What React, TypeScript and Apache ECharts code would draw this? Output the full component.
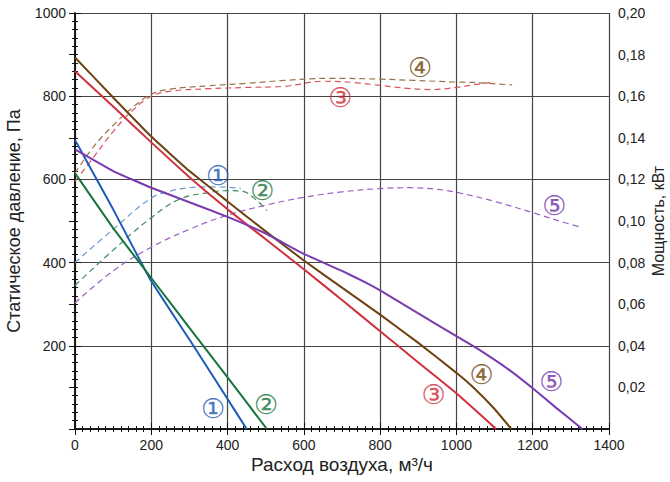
import React, { useEffect, useRef } from "react";
import * as echarts from "echarts";

// Pressure curves (solid), flow m3/h -> Pa
const flow1 = [0, 100, 197, 300, 400, 450];
const pres1 = [695, 528, 360, 215, 72, 0];
const flow2 = [0, 100, 205, 300, 400, 503];
const pres2 = [615, 483, 357, 243, 124, 0];
const flow3 = [0, 100, 200, 300, 400, 500, 600, 700, 800, 900, 1000, 1050, 1104];
const pres3 = [860, 775, 689, 605, 528, 456, 384, 310, 235, 160, 86, 45, 0];
const flow4 = [0, 100, 200, 300, 400, 500, 600, 700, 800, 900, 1000, 1050, 1100, 1144];
const pres4 = [893, 797, 703, 620, 547, 475, 405, 340, 275, 207, 135, 95, 48, 0];
const flow5 = [0, 100, 200, 300, 400, 500, 600, 700, 760, 800, 900, 1000, 1050, 1140, 1200, 1260, 1330];
const pres5 = [672, 620, 580, 545, 510, 470, 421, 380, 353, 333, 278, 223, 196, 141, 98, 52, 0];

// Power curves (dashed), flow m3/h -> kW
const pflow1 = [0, 100, 200, 250, 300, 350, 400, 435];
const power1 = [0.08, 0.096, 0.111, 0.1144, 0.116, 0.1164, 0.1162, 0.1156];
const pflow2 = [0, 100, 200, 276, 354, 400, 440, 476, 503];
const power2 = [0.069, 0.086, 0.1016, 0.1106, 0.1138, 0.1146, 0.1142, 0.11, 0.105];
const pflow3 = [0, 50, 100, 150, 200, 250, 350, 450, 550, 650, 730, 800, 870, 932, 1000, 1063, 1100];
const power3 = [0.119, 0.131, 0.143, 0.153, 0.16, 0.1624, 0.1636, 0.1642, 0.1648, 0.1672, 0.1666, 0.1652, 0.1638, 0.1632, 0.1642, 0.166, 0.1668];
const pflow4 = [0, 50, 100, 150, 200, 250, 350, 450, 550, 669, 800, 888, 1000, 1045, 1146];
const power4 = [0.123, 0.136, 0.146, 0.1544, 0.161, 0.1634, 0.165, 0.1662, 0.1676, 0.1686, 0.1682, 0.1676, 0.1668, 0.1666, 0.1654];
const pflow5 = [0, 100, 200, 300, 400, 500, 600, 700, 800, 880, 950, 1000, 1100, 1200, 1270, 1330];
const power5 = [0.0606, 0.076, 0.0874, 0.096, 0.1028, 0.1076, 0.1114, 0.114, 0.1156, 0.116, 0.1152, 0.1138, 0.1094, 0.104, 0.1, 0.0968];

// Curve number labels: [flow, pressure]
const labelText = ["①", "①", "②", "②", "③", "③", "④", "④", "⑤", "⑤"];
const labelFlow = [375, 362, 491, 501, 696, 940, 905, 1066, 1257, 1249];
const labelPres = [609, 50, 573, 60, 796, 82, 870, 132, 537, 115];
const labelColor = ["#1a56b4", "#1a56b4", "#137236", "#137236", "#cc2a36", "#cc2a36", "#6e420c", "#6e420c", "#7030a8", "#7030a8"];

const solidColors = ["#1e5bb8", "#17753d", "#d0303c", "#6e4210", "#7a3ab0"];
const dashColors = ["#6e9ad5", "#3d8a5c", "#d65560", "#957548", "#9a62c4"];

const zip = (a: number[], b: number[]) => a.map((v, i) => [v, b[i]]);

export default function App() {
  const ref = useRef<HTMLDivElement>(null);
  useEffect(() => {
    if (!ref.current) return;
    const chart = echarts.init(ref.current, undefined, { renderer: "svg" });
    const font = "Liberation Sans";
    const solids = [
      zip(flow1, pres1),
      zip(flow2, pres2),
      zip(flow3, pres3),
      zip(flow4, pres4),
      zip(flow5, pres5),
    ];
    const dashes = [
      zip(pflow1, power1),
      zip(pflow2, power2),
      zip(pflow3, power3),
      zip(pflow4, power4),
      zip(pflow5, power5),
    ];
    const series: any[] = [];
    dashes.forEach((d, i) =>
      series.push({
        type: "line",
        data: d,
        yAxisIndex: 1,
        showSymbol: false,
        smooth: 0.4,
        lineStyle: { color: dashColors[i], width: 1.2, type: [6, 4] },
        z: 2,
      })
    );
    solids.forEach((d, i) =>
      series.push({
        type: "line",
        data: d,
        yAxisIndex: 0,
        showSymbol: false,
        smooth: 0.1,
        lineStyle: { color: solidColors[i], width: 2 },
        z: 3,
      })
    );
    series.push({
      type: "scatter",
      yAxisIndex: 0,
      symbolSize: 0,
      z: 4,
      data: labelText.map((t, i) => ({
        value: [labelFlow[i], labelPres[i]],
        label: {
          show: true,
          position: "inside",
          formatter: t,
          color: labelColor[i],
          fontSize: 27,
          fontFamily: "DejaVu Sans",
          textBorderColor: labelColor[i],
          textBorderWidth: 0.15,
        },
      })),
    });
    const tickStyle = { color: "#111" };
    const nameStyle = { fontFamily: font, fontSize: 18, color: "#222" };
    const labelStyle = { fontFamily: font, fontSize: 14, color: "#222" };
    chart.setOption({
      animation: false,
      grid: { left: 75, right: 61, top: 13, bottom: 53, outerBoundsMode: "none", containLabel: false },
      xAxis: [
        {
          type: "value",
          min: 0,
          max: 1400,
          interval: 200,
          name: "Расход воздуха, м³/ч",
          nameLocation: "middle",
          nameGap: 26,
          nameMoveOverlap: false,
          nameTextStyle: { ...nameStyle, fontSize: 19 },
          axisLine: { show: true, lineStyle: { color: "#111", width: 1.5 } },
          axisTick: { show: true, inside: true, length: 6, lineStyle: tickStyle },
          minorTick: { show: true, splitNumber: 10, length: 3, lineStyle: tickStyle },
          axisLabel: { ...labelStyle, margin: 9, formatter: (v: number) => String(v) },
          splitLine: { show: true, lineStyle: { color: "#444", width: 1.2 } },
        },
        {
          type: "value",
          position: "top",
          min: 0,
          max: 1400,
          interval: 200,
          axisLine: { show: true, lineStyle: { color: "#111", width: 1.5 } },
          axisTick: { show: true, inside: true, length: 6, lineStyle: tickStyle },
          minorTick: { show: true, splitNumber: 10, length: 3, lineStyle: tickStyle },
          axisLabel: { show: false },
          splitLine: { show: false },
        },
      ],
      yAxis: [
        {
          type: "value",
          min: 0,
          max: 1000,
          interval: 200,
          name: "Статическое давление, Па",
          nameLocation: "middle",
          nameGap: 52,
          nameMoveOverlap: false,
          nameRotate: 90,
          nameTextStyle: nameStyle,
          axisLine: { show: true, lineStyle: { color: "#111", width: 1.5 } },
          axisTick: { show: true, inside: true, length: 6, lineStyle: tickStyle },
          minorTick: { show: true, splitNumber: 10, length: 3, lineStyle: tickStyle },
          axisLabel: {
            ...labelStyle,
            margin: 9,
            formatter: (v: number) => (v === 0 ? "" : String(v)),
          },
          splitLine: { show: true, lineStyle: { color: "#444", width: 1.2 } },
        },
        {
          type: "value",
          position: "right",
          min: 0,
          max: 0.2,
          interval: 0.02,
          name: "Мощность, кВт",
          nameLocation: "middle",
          nameGap: 41,
          nameMoveOverlap: false,
          nameRotate: 90,
          nameTextStyle: { ...nameStyle, fontSize: 16 },
          axisLine: { show: true, lineStyle: { color: "#111", width: 1.5 } },
          axisTick: { show: true, inside: true, length: 6, lineStyle: tickStyle },
          minorTick: { show: true, splitNumber: 5, length: 3, lineStyle: tickStyle },
          axisLabel: {
            ...labelStyle,
            margin: 9,
            formatter: (v: number) => (v === 0 ? "" : v.toFixed(2).replace(".", ",")),
          },
          splitLine: { show: false },
        },
      ],
      series,
    });
    return () => chart.dispose();
  }, []);
  return (
    <div
      ref={ref}
      style={{ position: "absolute", left: 0, top: 0, width: 670, height: 482, background: "#fff" }}
    />
  );
}
